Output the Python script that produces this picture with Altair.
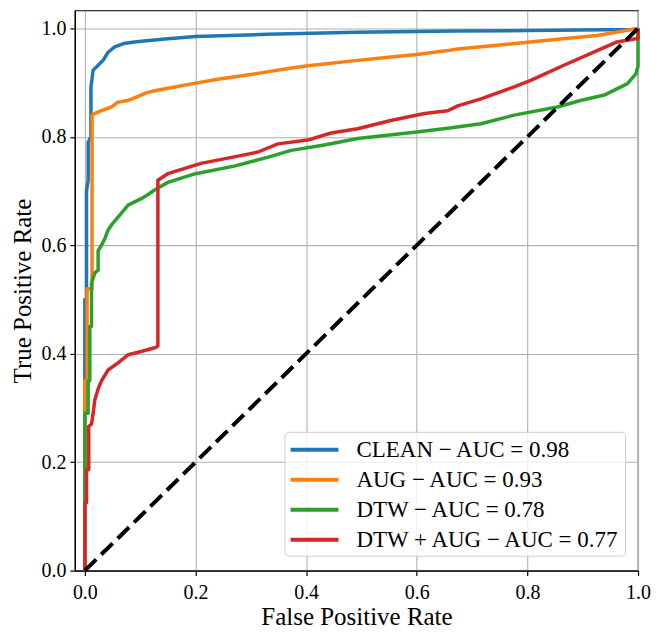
import altair as alt
import pandas as pd

FONT = "Liberation Serif"

labels = ["CLEAN − AUC = 0.98", "AUG − AUC = 0.93", "DTW − AUC = 0.78", "DTW + AUG − AUC = 0.77"]
colors = ["#1f77b4", "#ff7f0e", "#2ca02c", "#d62728"]

clean_x = [0, 0, 0.003, 0.003, 0.006, 0.006, 0.011, 0.011, 0.015, 0.024, 0.033, 0.042, 0.054, 0.07, 0.09, 0.111, 0.15, 0.2, 0.33, 0.49, 0.67, 0.8, 0.99, 1.0]
clean_y = [0, 0.50, 0.50, 0.70, 0.72, 0.79, 0.80, 0.892, 0.923, 0.932, 0.941, 0.956, 0.966, 0.972, 0.975, 0.977, 0.981, 0.985, 0.989, 0.993, 0.995, 0.996, 0.998, 1.0]

aug_x = [0, 0, 0.004, 0.004, 0.013, 0.013, 0.024, 0.048, 0.06, 0.078, 0.09, 0.111, 0.126, 0.2, 0.24, 0.313, 0.367, 0.403, 0.493, 0.553, 0.6, 0.656, 0.674, 0.746, 0.836, 0.926, 1.0]
aug_y = [0, 0.35, 0.35, 0.52, 0.52, 0.84, 0.846, 0.855, 0.864, 0.867, 0.872, 0.881, 0.885, 0.899, 0.906, 0.917, 0.926, 0.931, 0.941, 0.947, 0.952, 0.959, 0.962, 0.969, 0.978, 0.987, 1.0]

dtw_x = [0, 0, 0.006, 0.006, 0.009, 0.009, 0.012, 0.012, 0.018, 0.024, 0.024, 0.03, 0.036, 0.042, 0.05, 0.06, 0.07, 0.078, 0.09, 0.102, 0.115, 0.126, 0.15, 0.2, 0.27, 0.33, 0.373, 0.433, 0.493, 0.6, 0.656, 0.716, 0.776, 0.854, 0.896, 0.939, 0.981, 0.996, 1.0, 1.0]
dtw_y = [0, 0.29, 0.29, 0.35, 0.35, 0.45, 0.45, 0.53, 0.549, 0.554, 0.59, 0.60, 0.612, 0.628, 0.64, 0.652, 0.664, 0.674, 0.68, 0.686, 0.694, 0.702, 0.716, 0.732, 0.746, 0.762, 0.775, 0.785, 0.797, 0.809, 0.816, 0.824, 0.84, 0.855, 0.867, 0.877, 0.898, 0.916, 0.93, 1.0]

dtwaug_x = [0, 0, 0.003, 0.003, 0.007, 0.007, 0.012, 0.015, 0.018, 0.024, 0.03, 0.042, 0.06, 0.078, 0.102, 0.129, 0.132, 0.132, 0.15, 0.21, 0.27, 0.313, 0.349, 0.403, 0.445, 0.493, 0.553, 0.614, 0.656, 0.674, 0.716, 0.776, 0.806, 0.866, 0.926, 0.962, 0.996, 1.0, 1.0]
dtwaug_y = [0, 0.125, 0.125, 0.186, 0.186, 0.266, 0.27, 0.29, 0.315, 0.335, 0.35, 0.37, 0.383, 0.398, 0.404, 0.412, 0.414, 0.72, 0.732, 0.751, 0.763, 0.772, 0.787, 0.794, 0.807, 0.815, 0.83, 0.843, 0.848, 0.857, 0.87, 0.892, 0.904, 0.932, 0.959, 0.975, 0.981, 0.981, 1.0]

diag_x = [0, 1]
diag_y = [0, 1]

x_ticks = [0.0, 0.2, 0.4, 0.6, 0.8, 1.0]
y_ticks = [0.0, 0.2, 0.4, 0.6, 0.8, 1.0]

series = [(labels[0], clean_x, clean_y), (labels[1], aug_x, aug_y),
          (labels[2], dtw_x, dtw_y), (labels[3], dtwaug_x, dtwaug_y)]

xscale = alt.Scale(domain=[-0.018, 1.0], nice=False, zero=False)
yscale = alt.Scale(domain=[0, 1.033], nice=False, zero=False)
xaxis = alt.Axis(values=x_ticks, format=".1f", title="False Positive Rate", labelPadding=7, titlePadding=2, labelFlush=False)
yaxis = alt.Axis(values=y_ticks, format=".1f", title="True Positive Rate", labelPadding=4, titlePadding=5, labelFlush=False)
cscale = alt.Scale(domain=labels, range=colors)
legend = alt.Legend(orient="none", legendX=210, legendY=422, symbolType="M-2,0L2,0", symbolSize=576,
                    symbolStrokeWidth=4, labelFontSize=23, labelFont=FONT, labelColor="black", padding=4,
                    rowPadding=4, symbolOffset=12, labelOffset=28, fillColor="rgba(255,255,255,0.8)",
                    strokeColor="#cccccc", cornerRadius=4, labelLimit=500, title=None)

layers = []
for name, xs, ys in series:
    df = pd.DataFrame({"x": xs, "y": ys, "series": name, "i": list(range(len(xs)))})
    layers.append(
        alt.Chart(df).mark_line(strokeWidth=3.5, strokeJoin="round").encode(
            x=alt.X("x:Q", scale=xscale, axis=xaxis),
            y=alt.Y("y:Q", scale=yscale, axis=yaxis),
            color=alt.Color("series:N", scale=cscale, legend=legend),
            order=alt.Order("i:Q"),
        )
    )

diag_df = pd.DataFrame({"x": diag_x, "y": diag_y})
diag = alt.Chart(diag_df).mark_line(color="black", strokeWidth=4, strokeDash=[16, 7]).encode(
    x=alt.X("x:Q", scale=xscale, axis=xaxis),
    y=alt.Y("y:Q", scale=yscale, axis=yaxis),
)

chart = alt.layer(*layers, diag).properties(
    width=564, height=561,
    padding={"left": 3, "top": 2, "right": 5, "bottom": 0},
).configure_view(stroke="black", strokeWidth=1.2).configure_axis(
    grid=True, gridColor="#b0b0b0", gridWidth=1.1, domainColor="black", domainWidth=1.2,
    tickColor="black", tickWidth=1.2, tickSize=5, labelColor="black", labelFont=FONT,
    labelFontSize=20, titleFont=FONT, titleFontSize=25, titleFontWeight="normal", titleColor="black",
)

chart.save("out.html", embed_options={"renderer": "svg", "actions": False})
